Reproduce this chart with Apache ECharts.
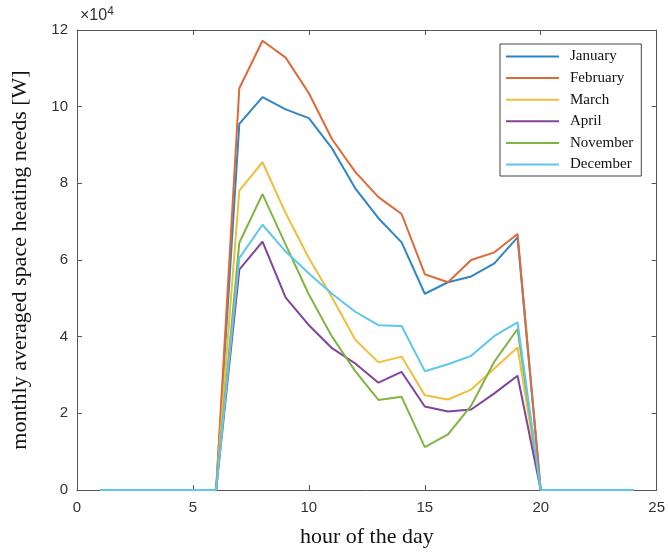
<!DOCTYPE html>
<html>
<head>
<meta charset="utf-8">
<script src="https://cdn.jsdelivr.net/npm/echarts@6/dist/echarts.min.js"></script>
<style>html,body{margin:0;padding:0;background:#fff;}#c{width:668px;height:554px;}</style>
</head>
<body>
<div id="c"></div>
<script>
const hours = [1,2,3,4,5,6,7,8,9,10,11,12,13,14,15,16,17,18,19,20,21,22,23,24];
const seriesNames = ['January','February','March','April','November','December'];
const january  = [0,0,0,0,0,0, 95500,102500,99300,97000,89100,78700,70900,64600,51200,54200,55700,59100,65900, 0,0,0,0,0];
const february = [0,0,0,0,0,0,104800,117200,112800,103500,91500,83000,76400,72000,56300,54200,60000,62000,66800, 0,0,0,0,0];
const march    = [0,0,0,0,0,0, 78100, 85500, 72200, 60500,50200,39200,33300,34800,24700,23600,26200,31700,37200, 0,0,0,0,0];
const april    = [0,0,0,0,0,0, 57500, 64800, 50200, 43000,37000,33000,28000,30800,21800,20500,21000,25200,29800, 0,0,0,0,0];
const november = [0,0,0,0,0,0, 64500, 77200, 64000, 51000,40000,31000,23500,24300,11200,14500,22000,33500,42000, 0,0,0,0,0];
const december = [0,0,0,0,0,0, 60500, 69200, 62200, 56500,51200,46500,43000,42800,31000,32800,35000,40200,43700, 0,0,0,0,0];
const xTicks = [0,5,10,15,20,25];
const yTicks = [0,2,4,6,8,10,12];

const values = [january,february,march,april,november,december];
const colors = ['#2f86c6','#de6a3a','#eebf3c','#82449a','#80b543','#5fc6ec'];

const chart = echarts.init(document.getElementById('c'), null, {renderer:'canvas'});
function axisCommon(){
  return {
    axisLine:{show:true,onZero:false,lineStyle:{color:'#555',width:1}},
    axisTick:{show:true,inside:true,length:5,lineStyle:{color:'#555'}},
    splitLine:{show:false}
  };
}
chart.setOption({
  animation:false,
  backgroundColor:'#fff',
  color: colors,
  grid:{left:77,right:10,top:30,bottom:64,containLabel:false},
  legend:{
    orient:'vertical', left:500, top:44,
    backgroundColor:'#fff', borderColor:'#444', borderWidth:1,
    padding:[5,8,4,6], itemWidth:53, itemHeight:2, itemGap:6.6,
    icon:'rect',
    textStyle:{fontFamily:'Liberation Serif', fontSize:15, color:'#111', padding:[0,0,0,6]},
    data: seriesNames
  },
  xAxis:[
    Object.assign({type:'value', min:xTicks[0], max:xTicks[xTicks.length-1], interval:5, position:'bottom',
      name:'hour of the day', nameLocation:'middle', nameGap:36,
      nameTextStyle:{fontFamily:'Liberation Serif', fontSize:22, color:'#111'},
      axisLabel:{margin:10, fontFamily:'Liberation Sans', fontSize:15, color:'#333'}}, axisCommon()),
    Object.assign({type:'value', min:0, max:25, interval:5, position:'top', axisLabel:{show:false}}, axisCommon())
  ],
  yAxis:[
    Object.assign({type:'value', min:0, max:yTicks[yTicks.length-1]*10000, interval:20000, position:'left',
      name:'monthly averaged space heating needs [W]', nameLocation:'middle', nameGap:46, nameRotate:90,
      nameTextStyle:{fontFamily:'Liberation Serif', fontSize:22, color:'#111'},
      axisLabel:{margin:9, fontFamily:'Liberation Sans', fontSize:15, color:'#333', formatter:v=>String(v/10000)}}, axisCommon()),
    Object.assign({type:'value', min:0, max:120000, interval:20000, position:'right', axisLabel:{show:false}}, axisCommon())
  ],
  graphic:[{
    type:'text', left:80, top:6,
    style:{text:'×10{sup|4}', rich:{sup:{fontSize:12, verticalAlign:'top', padding:[0,0,7,0], fontFamily:'Liberation Sans', fill:'#333'}}, fontFamily:'Liberation Sans', fontSize:16, fill:'#333'}
  }],
  series: seriesNames.map((n,i)=>({
    name:n, type:'line', symbol:'none', xAxisIndex:0, yAxisIndex:0,
    lineStyle:{width:2, color:colors[i]},
    itemStyle:{color:colors[i]},
    data: hours.map((h,k)=>[h, values[i][k]])
  }))
});
</script>
</body>
</html>
